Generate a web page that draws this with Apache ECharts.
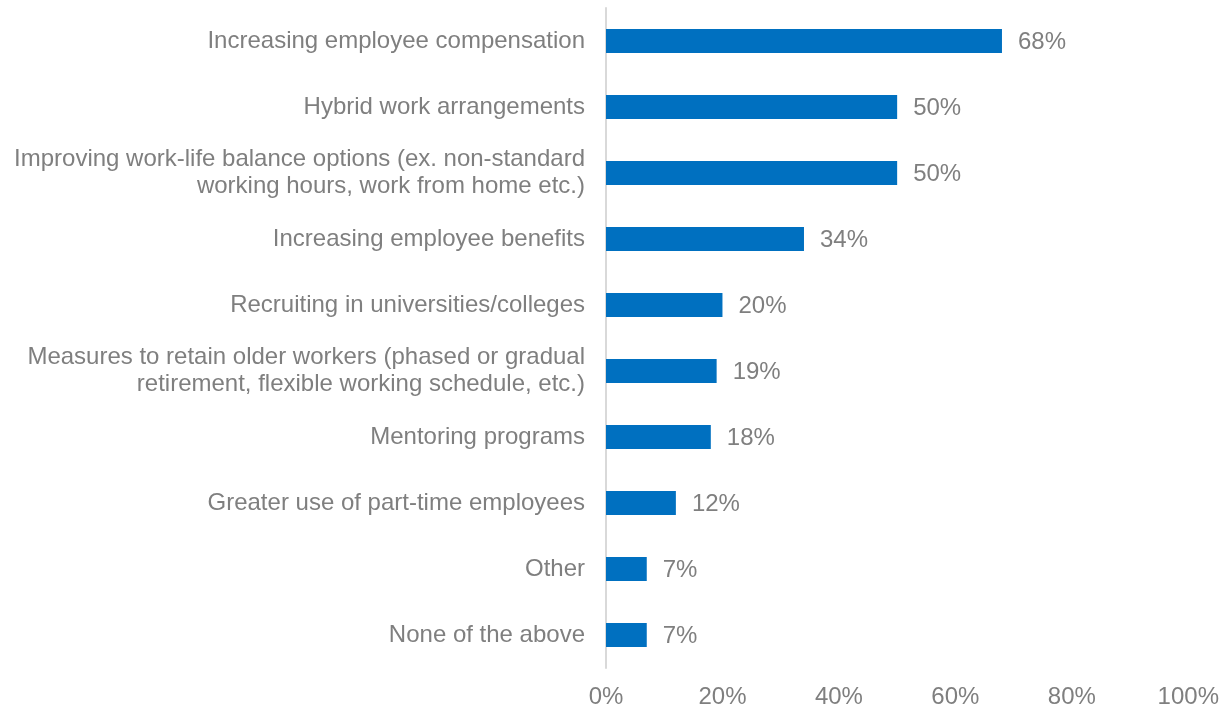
<!DOCTYPE html>
<html>
<head>
<meta charset="utf-8">
<script src="https://cdn.jsdelivr.net/npm/echarts@6/dist/echarts.min.js"></script>
<style>
  html, body { margin: 0; padding: 0; background: #fff; }
  #chart { width: 1222px; height: 709px; }
</style>
</head>
<body>
<div id="chart"></div>
<script>
// Retention / attraction measures, share of respondents (%)
const categories = [
  'Increasing employee compensation',
  'Hybrid work arrangements',
  'Improving work-life balance options (ex. non-standard\nworking hours, work from home etc.)',
  'Increasing employee benefits',
  'Recruiting in universities/colleges',
  'Measures to retain older workers (phased or gradual\nretirement, flexible working schedule, etc.)',
  'Mentoring programs',
  'Greater use of part-time employees',
  'Other',
  'None of the above'
];
const values = [68, 50, 50, 34, 20, 19, 18, 12, 7, 7];
const xTicks = [0, 20, 40, 60, 80, 100];

const font = 'Liberation Sans, Arial, sans-serif';
const grey = '#7f7f7f';
const fontSize = 24;

const chart = echarts.init(document.getElementById('chart'), null, { renderer: 'canvas' });
chart.setOption({
  animation: false,
  grid: { left: 606, right: 32, top: 8, bottom: 39, containLabel: false },
  xAxis: {
    type: 'value',
    min: xTicks[0],
    max: xTicks[xTicks.length - 1],
    interval: xTicks[1] - xTicks[0],
    axisLine: { show: false },
    axisTick: { show: false },
    splitLine: { show: false },
    axisLabel: {
      formatter: v => v + '%',
      color: grey,
      fontFamily: font,
      fontSize: fontSize,
      margin: 17
    }
  },
  yAxis: {
    type: 'category',
    inverse: true,
    data: categories,
    axisLine: { show: true, lineStyle: { color: '#d9d9d9', width: 2 } },
    axisTick: { show: false },
    axisLabel: {
      color: grey,
      fontFamily: font,
      fontSize: fontSize,
      lineHeight: 27,
      margin: 21,
      padding: [3, 0, 0, 0],
      align: 'right'
    }
  },
  series: [{
    type: 'bar',
    data: values,
    barWidth: 24,
    itemStyle: { color: '#0070c0' },
    label: {
      show: true,
      position: 'right',
      distance: 16,
      offset: [0, 1],
      formatter: p => p.value + '%',
      color: grey,
      fontFamily: font,
      fontSize: fontSize
    }
  }]
});
</script>
</body>
</html>
